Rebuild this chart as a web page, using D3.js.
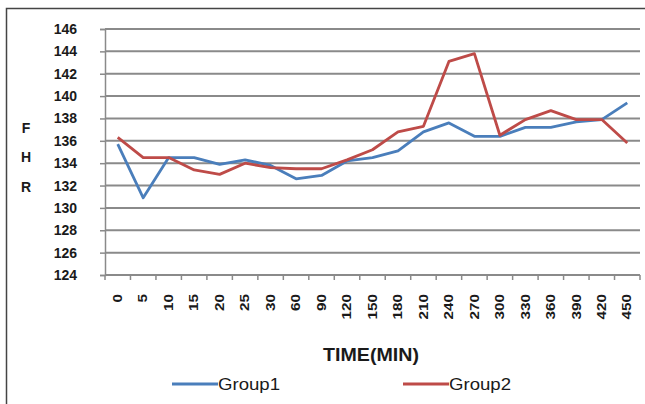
<!DOCTYPE html>
<html>
<head>
<meta charset="utf-8">
<script src="https://cdn.jsdelivr.net/npm/d3@7"></script>
<style>
  html, body { margin: 0; padding: 0; background: #fff; }
  svg { display: block; }
  text { font-family: "Liberation Sans", Arial, sans-serif; fill: #1a1a1a; }
</style>
</head>
<body>
<svg id="chart" width="645" height="404"></svg>
<script>
// Time points (minutes) shown on the category axis
const times = ["0", "5", "10", "15", "20", "25", "30", "60", "90", "120", "150",
               "180", "210", "240", "270", "300", "330", "360", "390", "420", "450"];

// Fetal heart rate per group
const group1 = [135.7, 130.9, 134.5, 134.5, 133.9, 134.3, 133.8, 132.6, 132.9, 134.2, 134.5,
                135.1, 136.8, 137.6, 136.4, 136.4, 137.2, 137.2, 137.7, 137.9, 139.4];
const group2 = [136.3, 134.5, 134.5, 133.4, 133.0, 134.0, 133.6, 133.5, 133.5, 134.3, 135.2,
                136.8, 137.3, 143.1, 143.8, 136.5, 137.9, 138.7, 137.9, 137.9, 135.8];

const yTicks = [124, 126, 128, 130, 132, 134, 136, 138, 140, 142, 144, 146];
const seriesNames = ["Group1", "Group2"];
const colors = ["#4a7ebb", "#be4b48"];

const svg = d3.select("#chart");

// outer frame (left and top edges visible)
svg.append("rect")
  .attr("x", 6.5).attr("y", 8.5).attr("width", 700).attr("height", 500)
  .attr("fill", "none").attr("stroke", "#444").attr("stroke-width", 1.5);

const plotLeft = 105, plotRight = 640, plotTop = 29, plotBottom = 275;

const x = d3.scaleBand().domain(times).range([plotLeft, plotRight]).paddingInner(0).paddingOuter(0);
const y = d3.scaleLinear().domain([124, 146]).range([plotBottom, plotTop]);

// horizontal gridlines
svg.append("g")
  .selectAll("line")
  .data(yTicks.filter(v => v !== 124))
  .join("line")
  .attr("x1", plotLeft).attr("x2", plotRight)
  .attr("y1", d => y(d)).attr("y2", d => y(d))
  .attr("stroke", "#8a8a8a").attr("stroke-width", 2);

// y axis
const yAxis = svg.append("g")
  .attr("transform", `translate(${plotLeft},0)`)
  .call(d3.axisLeft(y).tickValues(yTicks).tickSize(5).tickPadding(23).tickFormat(d3.format("d")));
yAxis.select(".domain").attr("stroke", "#8a8a8a").attr("stroke-width", 1.5);
yAxis.selectAll(".tick line").attr("stroke", "#8a8a8a").attr("stroke-width", 1.5);
yAxis.selectAll(".tick text")
  .style("font-size", "14px").style("font-weight", "bold")
  .style("font-family", "'Liberation Sans', Arial, sans-serif").attr("fill", "#1a1a1a");

// x axis with ticks at category boundaries
const xAxisG = svg.append("g").attr("transform", `translate(0,${plotBottom})`);
xAxisG.append("line")
  .attr("x1", plotLeft).attr("x2", plotRight).attr("y1", 0).attr("y2", 0)
  .attr("stroke", "#8a8a8a").attr("stroke-width", 2);
const boundaries = times.map(t => x(t)).concat([x(times[times.length - 1]) + x.bandwidth()]);
xAxisG.selectAll("line.tk")
  .data(boundaries)
  .join("line")
  .attr("class", "tk")
  .attr("x1", d => d).attr("x2", d => d)
  .attr("y1", 0).attr("y2", 5)
  .attr("stroke", "#8a8a8a").attr("stroke-width", 1.5);
xAxisG.selectAll("text")
  .data(times)
  .join("text")
  .attr("transform", d => `translate(${x(d) + x.bandwidth() / 2},19) rotate(-90) scale(1.27,1)`)
  .attr("text-anchor", "end")
  .attr("dy", "0.35em")
  .style("font-size", "12px").style("font-weight", "bold")
  .text(d => d);

// axis titles
svg.append("text")
  .attr("x", 371).attr("y", 355).attr("dy", "0.35em")
  .attr("text-anchor", "middle")
  .attr("textLength", 96).attr("lengthAdjust", "spacingAndGlyphs")
  .style("font-size", "18px").style("font-weight", "bold")
  .text("TIME(MIN)");

svg.selectAll("text.ylab")
  .data([["F", 128], ["H", 157], ["R", 187]])
  .join("text")
  .attr("class", "ylab")
  .attr("x", 26).attr("y", d => d[1]).attr("dy", "0.35em")
  .attr("text-anchor", "middle")
  .style("font-size", "14px").style("font-weight", "bold")
  .text(d => d[0]);

// series lines
const line = d3.line()
  .x((d, i) => x(times[i]) + x.bandwidth() / 2)
  .y(d => y(d));

[group1, group2].forEach((s, k) => {
  svg.append("path")
    .datum(s)
    .attr("d", line)
    .attr("fill", "none")
    .attr("stroke", colors[k])
    .attr("stroke-width", 2.8)
    .attr("stroke-linejoin", "round");
});

// legend
const legendX = [172, 403];
seriesNames.forEach((name, k) => {
  const g = svg.append("g").attr("transform", `translate(${legendX[k]},384)`);
  g.append("line").attr("x1", 0).attr("x2", 46).attr("y1", 0).attr("y2", 0)
    .attr("stroke", colors[k]).attr("stroke-width", 2.8);
  g.append("text").attr("x", 46).attr("y", 0).attr("dy", "0.35em")
    .attr("textLength", 62).attr("lengthAdjust", "spacingAndGlyphs")
    .style("font-size", "17px")
    .text(name);
});
</script>
</body>
</html>
